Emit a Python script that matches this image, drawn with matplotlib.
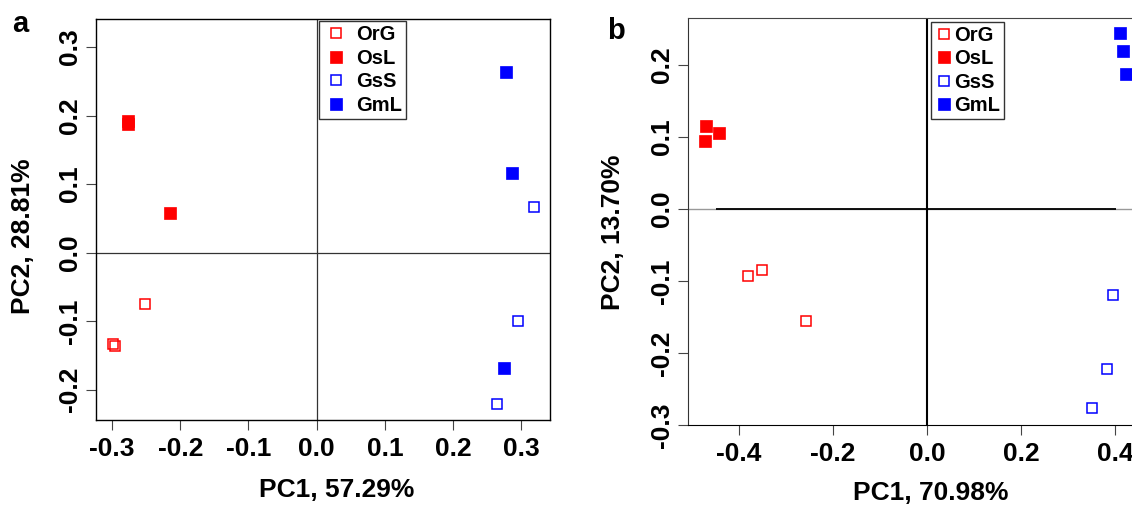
import matplotlib
matplotlib.use("Agg")
import matplotlib.pyplot as plt
from matplotlib.lines import Line2D

plt.rcParams['font.family'] = ['Liberation Sans', 'DejaVu Sans']
plt.rcParams['font.weight'] = 'bold'
plt.rcParams['axes.unicode_minus'] = False

groups = ['OrG', 'OsL', 'GsS', 'GmL']
colors = ['red', 'red', 'blue', 'blue']
filled = [False, True, False, True]

# panel a: PC1 / PC2 scores per group
a_x = {'OrG': [-0.252, -0.299, -0.296],
       'OsL': [-0.276, -0.276, -0.215],
       'GsS': [0.319, 0.295, 0.264],
       'GmL': [0.277, 0.287, 0.275]}
a_y = {'OrG': [-0.075, -0.134, -0.137],
       'OsL': [0.192, 0.187, 0.058],
       'GsS': [0.066, -0.100, -0.221],
       'GmL': [0.263, 0.116, -0.169]}

# panel b
b_x = {'OrG': [-0.380, -0.351, -0.257],
       'OsL': [-0.470, -0.472, -0.443],
       'GsS': [0.396, 0.383, 0.350],
       'GmL': [0.411, 0.418, 0.424]}
b_y = {'OrG': [-0.093, -0.084, -0.155],
       'OsL': [0.116, 0.094, 0.106],
       'GsS': [-0.120, -0.222, -0.277],
       'GmL': [0.245, 0.219, 0.187]}

a_xticks = [-0.3, -0.2, -0.1, 0.0, 0.1, 0.2, 0.3]
a_yticks = [-0.2, -0.1, 0.0, 0.1, 0.2, 0.3]
b_xticks = [-0.4, -0.2, 0.0, 0.2, 0.4]
b_yticks = [-0.3, -0.2, -0.1, 0.0, 0.1, 0.2]

W, H = 1132, 505
fig = plt.figure(figsize=(W / 100, H / 100), dpi=100)


def px_box(l, t, r, b):
    return [l / W, 1 - b / H, (r - l) / W, (b - t) / H]


def draw_points(ax, xs, ys):
    for g, c, f in zip(groups, colors, filled):
        if f:
            ax.plot(xs[g], ys[g], 's', ms=8.4, mfc=c, mec=c, mew=0.5, ls='none', zorder=3)
        else:
            ax.plot(xs[g], ys[g], 's', ms=6.8, mfc='none', mec=c, mew=1.1, ls='none', zorder=3)


def style_axis(ax, xticks, yticks):
    ax.set_xticks(xticks)
    ax.set_yticks(yticks)
    ax.set_xticklabels(['%.1f' % v for v in xticks])
    ax.set_yticklabels(['%.1f' % v for v in yticks], rotation=90, va='center')
    ax.tick_params(length=7, width=0.8, color='#444444', labelsize=19, pad=3)
    ax.tick_params(axis='x', pad=5)
    for lab in ax.get_xticklabels() + ax.get_yticklabels():
        lab.set_fontweight('bold')


def legend(ax, anchor, hlen, tpad, bpad):
    handles = []
    for g, c, f in zip(groups, colors, filled):
        handles.append(Line2D([], [], marker='s', ls='none', ms=8.5 if f else 7,
                              mfc=c if f else 'none', mec=c, mew=0.5 if f else 1.1))
    leg = ax.legend(handles, groups, loc='upper left', bbox_to_anchor=anchor,
                    bbox_transform=fig.transFigure, fontsize=14.5, frameon=True,
                    fancybox=False, edgecolor='#333333', framealpha=1,
                    borderpad=bpad, labelspacing=0.22, handletextpad=tpad,
                    handlelength=hlen, borderaxespad=0)
    leg.get_frame().set_linewidth(1.0)
    for t in leg.get_texts():
        t.set_fontweight('bold')


# panel a
ax1 = fig.add_axes(px_box(95.7, 19, 550, 420))
draw_points(ax1, a_x, a_y)
ax1.axhline(0, color='#333333', lw=0.9, zorder=1)
ax1.axvline(0, color='#333333', lw=0.9, zorder=1)
ax1.set_xlim(-0.324, 0.342)
ax1.set_ylim(-0.2445, 0.341)
style_axis(ax1, a_xticks, a_yticks)
for s in ax1.spines.values():
    s.set_linewidth(1.0)
legend(ax1, (319 / W, 1 - 21 / H), 1.2, 0.4, 0.22)

# panel b
ax2 = fig.add_axes(px_box(688, 18.3, 1174, 425))
draw_points(ax2, b_x, b_y)
ax2.axhline(0, color='#999999', lw=1.0, zorder=1)
ax2.hlines(0, -0.449, 0.402, color='black', lw=1.3, zorder=1)
ax2.axvline(0, color='black', lw=1.5, zorder=1)
ax2.set_xlim(-0.5085, 0.5255)
ax2.set_ylim(-0.298, 0.265)
style_axis(ax2, b_xticks, b_yticks)
ax2.spines['left'].set_color('#333333')
ax2.spines['top'].set_color('#444444')
legend(ax2, (931 / W, 1 - 22 / H), 0.85, 0.12, 0.2)

fig.text(23 / W, 1 - 236 / H, 'PC2, 28.81%', rotation=90, ha='center', va='center',
         fontsize=19, fontweight='bold')
fig.text(337 / W, 1 - 490 / H, 'PC1, 57.29%', ha='center', va='center',
         fontsize=19, fontweight='bold')
fig.text(613 / W, 1 - 232 / H, 'PC2, 13.70%', rotation=90, ha='center', va='center',
         fontsize=19, fontweight='bold')
fig.text(931 / W, 1 - 493 / H, 'PC1, 70.98%', ha='center', va='center',
         fontsize=19, fontweight='bold')
fig.text(20 / W, 1 - 24 / H, 'a', ha='center', va='center', fontsize=21, fontweight='bold')
fig.text(616 / W, 1 - 31 / H, 'b', ha='center', va='center', fontsize=21, fontweight='bold')

fig.savefig('out.png', dpi=100)
